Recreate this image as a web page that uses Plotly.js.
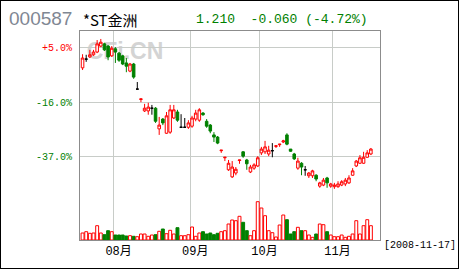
<!DOCTYPE html>
<html><head><meta charset="utf-8">
<script src="https://cdn.plot.ly/plotly-3.0.1.min.js"></script>
<style>html,body{margin:0;padding:0;background:#fff;}#chart{width:460px;height:270px;}
#chart .plot path, #chart .gridlayer path, #chart .shapelayer path {shape-rendering:crispEdges;}</style>
</head><body><div id="chart"></div>
<script>
// ---- data (daily bars 2008-07-21 .. 2008-11-17) ----
const open = [4.63,4.79,4.83,4.87,4.92,5.03,5.07,5.03,4.85,4.98,
4.90,4.85,4.72,4.57,4.70,4.24,4.05,3.84,3.84,3.89,
3.89,3.51,3.69,3.43,3.45,3.71,3.82,3.54,3.54,3.54,
3.56,3.69,3.67,3.80,3.65,3.58,3.40,3.36,3.11,2.98,
2.76,2.63,2.70,2.93,3.09,2.94,2.72,2.79,2.83,3.07,
3.09,3.05,3.11,3.19,3.22,3.27,3.40,3.14,3.05,2.79,
2.88,2.76,2.65,2.65,2.66,2.46,2.48,2.61,2.46,2.45,
2.45,2.48,2.50,2.52,2.66,2.83,2.88,2.88,2.99,3.05];
const close = [4.81,4.79,4.87,4.92,5.07,5.10,4.96,4.83,4.99,4.92,
4.77,4.70,4.66,4.70,4.46,4.24,4.06,3.89,3.91,3.89,
3.65,3.58,3.62,3.75,3.86,3.86,3.67,3.54,3.54,3.62,
3.71,3.80,3.86,3.77,3.56,3.47,3.36,3.25,3.12,2.99,
2.88,2.81,2.77,2.94,3.01,2.87,2.81,2.85,2.98,3.14,
3.18,3.12,3.11,3.20,3.23,3.29,3.23,3.10,2.96,2.92,
2.81,2.76,2.70,2.74,2.59,2.52,2.57,2.52,2.50,2.48,
2.50,2.54,2.57,2.61,2.74,2.92,2.98,2.99,3.07,3.14];
const high = [4.88,4.87,4.96,4.96,5.14,5.16,5.09,5.05,5.03,5.01,
4.92,4.87,4.81,4.72,4.72,4.37,4.06,3.97,3.99,3.95,
3.91,3.73,3.71,3.82,3.95,3.95,3.86,3.78,3.71,3.67,
3.75,3.86,3.89,3.82,3.69,3.60,3.45,3.38,3.12,2.99,
2.94,2.92,2.81,2.94,3.10,2.96,2.85,2.88,3.01,3.18,
3.29,3.20,3.25,3.20,3.23,3.31,3.43,3.14,3.07,2.98,
2.90,2.83,2.72,2.76,2.68,2.54,2.61,2.63,2.52,2.52,
2.55,2.57,2.61,2.66,2.79,2.94,3.03,3.09,3.12,3.16];
const low = [4.59,4.74,4.81,4.85,4.90,5.01,4.94,4.77,4.83,4.72,
4.74,4.68,4.55,4.55,4.43,4.24,4.00,3.82,3.77,3.77,
3.62,3.40,3.58,3.42,3.42,3.69,3.64,3.53,3.53,3.51,
3.53,3.65,3.64,3.75,3.53,3.43,3.27,3.23,3.07,2.92,
2.74,2.61,2.66,2.87,2.98,2.76,2.70,2.76,2.81,3.03,
3.05,3.01,2.99,3.16,3.18,3.25,3.21,3.09,2.94,2.76,
2.66,2.65,2.61,2.61,2.55,2.43,2.46,2.43,2.43,2.41,
2.43,2.46,2.46,2.50,2.65,2.81,2.87,2.87,2.98,3.03];
const volume = [70,83,67,70,143,70,53,93,83,50,
50,50,40,43,37,33,60,60,37,50,
53,87,110,63,97,60,123,43,43,53,
130,37,70,83,60,70,53,67,83,93,
160,200,193,237,177,93,43,93,383,320,
243,93,73,30,150,250,203,60,83,127,
93,93,50,27,60,160,153,83,50,33,
33,50,27,37,60,193,60,143,203,143];
const monthLabels = ['08月','09月','10月','11月'];
const monthStart = [9,30,49,69];
const priceTicks = [3,4,5];
const priceTickText = ['3.00','4.00','5.00'];
const pctTickText = ['-37.0%','-16.0%','+5.0%'];
const quoteCode = '000587', quoteName = '*ST金洲';
const quoteLast = '1.210', quoteChg = '-0.060', quotePct = '-4.72%';
const quoteDate = '2008-11-17';
const watermark = 'CFi.CN';

// ---- build ----
const RED = '#ff0000', GREEN = '#008000', BLACK = '#000000';
const idx = close.map((_, i) => i);
function pick(cond) {
  const o = {x: [], open: [], high: [], low: [], close: []};
  idx.forEach(i => { if (cond(i)) { o.x.push(i); o.open.push(open[i]); o.high.push(high[i]); o.low.push(low[i]); o.close.push(close[i]); } });
  return o;
}
function candle(d, color, fill) {
  return {type: 'candlestick', x: d.x, open: d.open, high: d.high, low: d.low, close: d.close,
    increasing: {line: {color: color, width: 1}, fillcolor: fill},
    decreasing: {line: {color: color, width: 1}, fillcolor: fill},
    whiskerwidth: 0, hoverinfo: 'skip', showlegend: false, xaxis: 'x', yaxis: 'y'};
}
const up = pick(i => close[i] > open[i]);
const dn = pick(i => close[i] < open[i]);
const flat = pick(i => close[i] === open[i]);
const isDown = idx.map(i => close[i] < open[i]);
const volTrace = {type: 'bar', x: idx, y: volume, xaxis: 'x', yaxis: 'y3', width: 0.8,
  marker: {color: isDown.map(d => d ? GREEN : '#ffffff'), line: {color: isDown.map(d => d ? GREEN : RED), width: 1}},
  hoverinfo: 'skip', showlegend: false};
const traces = [volTrace, candle(up, RED, '#ffffff'), candle(dn, GREEN, GREEN), candle(flat, BLACK, BLACK)];

const yRange = [1.472, 5.306];
const grid = '#c8ccc8';
const frame = '#8c8c8c';
const mono = 'Liberation Mono, DejaVu Sans Mono, monospace';
const px = x => (x - 80) / 300, py = y => (240 - y) / 209;

const layout = {
  width: 460, height: 270, margin: {l: 80, r: 80, t: 31, b: 30},
  paper_bgcolor: '#ffffff', plot_bgcolor: '#ffffff', showlegend: false,
  boxgap: 0, bargap: 0.2,
  xaxis: {range: [-0.7, 81.5], rangeslider: {visible: false}, tickmode: 'array',
    tickvals: monthStart.map(s => s - 0.5), ticktext: monthLabels, ticklabelshift: 5,
    showgrid: true, gridcolor: grid, gridwidth: 1, zeroline: false,
    showline: true, mirror: true, linecolor: frame, linewidth: 1, ticks: '',
    tickfont: {family: 'Liberation Mono, Noto Sans CJK SC', size: 12, color: '#000'}, fixedrange: true},
  yaxis: {range: yRange, tickmode: 'array', tickvals: priceTicks,
    ticktext: pctTickText.map(t => '<span style="color:' + (t[0] === '+' ? RED : GREEN) + '">' + t + '</span>'),
    side: 'left', showgrid: true, gridcolor: grid, gridwidth: 1, zeroline: false,
    showline: true, mirror: true, linecolor: frame, linewidth: 1, ticks: '', ticklabelstandoff: 5,
    tickfont: {family: mono, size: 10, color: GREEN}, fixedrange: true},
  yaxis2: {overlaying: 'y', side: 'right', range: yRange, tickmode: 'array', tickvals: priceTicks,
    ticktext: priceTickText, showgrid: false, zeroline: false, showline: false, ticks: '',
    tickfont: {family: mono, size: 10, color: '#000'}, fixedrange: true},
  yaxis3: {overlaying: 'y', range: [0, 2090], visible: false, fixedrange: true},
  annotations: [
    {xref: 'paper', yref: 'paper', x: px(7), y: py(19), xanchor: 'left', yanchor: 'middle', showarrow: false,
     text: quoteCode, font: {family: 'Liberation Sans, Arial', size: 19, color: '#7f8793'}},
    {xref: 'paper', yref: 'paper', x: px(81), y: py(19.5), xanchor: 'left', yanchor: 'middle', showarrow: false,
     text: quoteName, font: {family: 'Noto Sans CJK SC', size: 15, color: '#000'}},
    {xref: 'paper', yref: 'paper', x: px(194), y: py(19.5), xanchor: 'left', yanchor: 'middle', showarrow: false,
     text: quoteLast + '\u00a0\u00a0' + quoteChg + '\u00a0(' + quotePct + ')', font: {family: mono, size: 13, color: GREEN}},
    {xref: 'paper', yref: 'paper', x: px(382), y: py(246), xanchor: 'left', yanchor: 'middle', showarrow: false,
     text: '[' + quoteDate + ']', font: {family: mono, size: 10, color: '#000'}}
  ],
  shapes: [
    {type: 'rect', xref: 'paper', yref: 'paper', x0: px(86), x1: px(164), y0: py(58), y1: py(39), layer: 'below',
     line: {width: 0}, fillcolor: 'rgba(0,0,0,0)',
     label: {text: watermark, textposition: 'middle center', font: {family: 'Liberation Sans, Arial', size: 23, color: '#d4d4d4', weight: 'bold'}}},
    {type: 'rect', xref: 'paper', yref: 'paper', x0: px(0.5), x1: px(458.5), y0: py(268.5), y1: py(0.5), layer: 'above',
     line: {color: '#000', width: 1}, fillcolor: 'rgba(0,0,0,0)'}
  ]
};
Plotly.newPlot('chart', traces, layout, {staticPlot: true, displayModeBar: false});
</script></body></html>
